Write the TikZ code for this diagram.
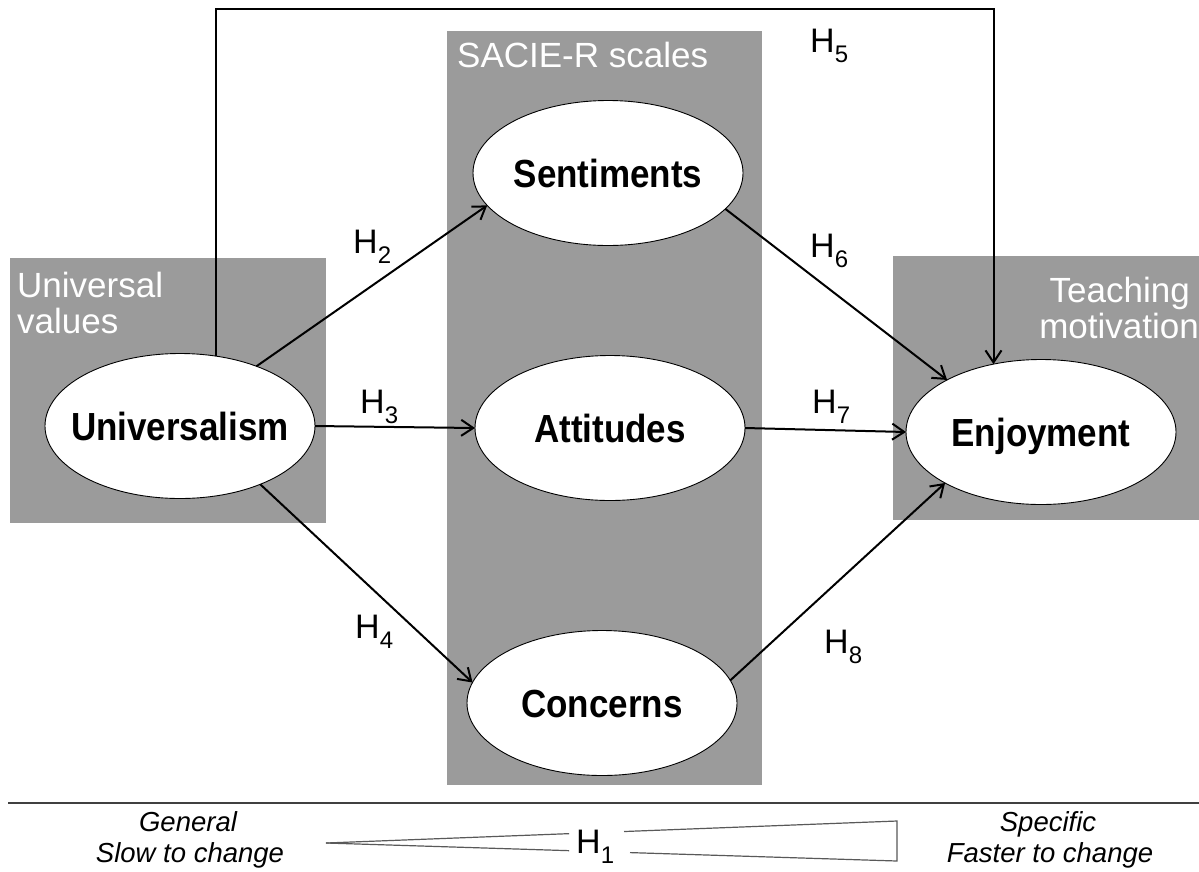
\documentclass[tikz,border=0pt]{standalone}
\usepackage{fontspec}
\setmainfont{Liberation Sans}
\usetikzlibrary{arrows.meta,shapes.geometric,calc}
\definecolor{boxgray}{HTML}{9B9B9B}
\newcommand{\hyplab}[1]{H\raisebox{-10.5pt}{\fontsize{24}{24}\selectfont #1}}
\newcommand{\latlab}[1]{\makebox[0pt]{\scalebox{1}[1.12]{#1}}}
\tikzset{
  lat/.style={ellipse, draw=black, line width=0.9pt, fill=white,
    minimum width=270pt, minimum height=145pt, inner sep=0pt, outer sep=0pt,
    text height=28pt, text depth=0pt, font=\fontsize{35}{40}\selectfont\bfseries},
  arr/.style={line width=2pt, -{Straight Barb[length=12pt,width=16pt]}},
  grplab/.style={text=white, font=\fontsize{35}{40}\selectfont, inner sep=0pt},
  hyp/.style={font=\fontsize{34}{40}\selectfont, inner sep=0pt, anchor=base west},
  note/.style={font=\fontsize{27.5}{31}\selectfont\itshape, inner sep=0pt, anchor=base},
  wedgeline/.style={draw=black!65, line width=1.2pt},
}
\begin{document}
\begin{tikzpicture}[x=1pt,y=-1pt]
\useasboundingbox (0,0) rectangle (1199,871);
\fill[white] (0,0) rectangle (1199,871);
% group boxes
\fill[boxgray] (10,258) rectangle (326,523);
\fill[boxgray] (447,31) rectangle (762,785);
\fill[boxgray] (893,256) rectangle (1199,520);
\node[grplab, anchor=base west] (lUV1) at (17,297) {Universal};
\node[grplab, anchor=base west] (lUV2) at (17,333) {values};
\node[grplab, anchor=base west] (lSA) at (457,67) {SACIE-R scales};
\node[grplab, anchor=base east] (lTM1) at (1190,302) {Teaching};
\node[grplab, anchor=base east] (lTM2) at (1199,338) {motivation};
% constructs
\node[lat] (U) at (180,426) {\latlab{Universalism}};
\node[lat] (S) at (608,173) {\latlab{Sentiments}};
\node[lat] (A) at (610,428) {\latlab{Attitudes}};
\node[lat] (C) at (602,703) {\latlab{Concerns}};
\node[lat] (E) at (1041,432) {\latlab{Enjoyment}};
% paths
\coordinate (top) at (600,9);
\draw[arr] (U.63) -- (U.63 |- top) -| (E.125);
\draw[arr] (U.38.5) -- (S.195.3);
\draw[arr] (U.east) -- (A.west);
\draw[arr] (U.-36.2) -- (C.171.3);
\draw[arr] (S.-17.4) -- (E.151.3);
\draw[arr] (A.east) -- (E.west);
\draw[arr] (C.10.6) -- (E.208);
% hypothesis labels
\node[hyp] (h2) at (353,253) {\hyplab{2}};
\node[hyp] (h3) at (360,413) {\hyplab{3}};
\node[hyp] (h4) at (355,638) {\hyplab{4}};
\node[hyp] (h5) at (810,52) {\hyplab{5}};
\node[hyp] (h6) at (810,257) {\hyplab{6}};
\node[hyp] (h7) at (812,413) {\hyplab{7}};
\node[hyp] (h8) at (824,653) {\hyplab{8}};
% bottom scale
\coordinate (bl) at (8,803);
\coordinate (br) at (1199,803);
\draw[black!75, line width=1.5pt] (bl) -- (br);
\coordinate (wt) at (326,843);
\coordinate (wa) at (897,821);
\coordinate (wb) at (897,861);
\draw[wedgeline] (wt) -- ($(wt)!0.4256!(wa)$);
\draw[wedgeline] (wt) -- ($(wt)!0.4256!(wb)$);
\draw[wedgeline] ($(wt)!0.5219!(wa)$) -- (wa) -- (wb) -- ($(wt)!0.5324!(wb)$);
\node[hyp] (h1) at (576,853) {\hyplab{1}};
\node[note] (gen) at (188,831) {General};
\node[note] (slow) at (190,862) {Slow to change};
\node[note] (spec) at (1048,831) {Specific};
\node[note] (fast) at (1050,862) {Faster to change};
\end{tikzpicture}
\end{document}
